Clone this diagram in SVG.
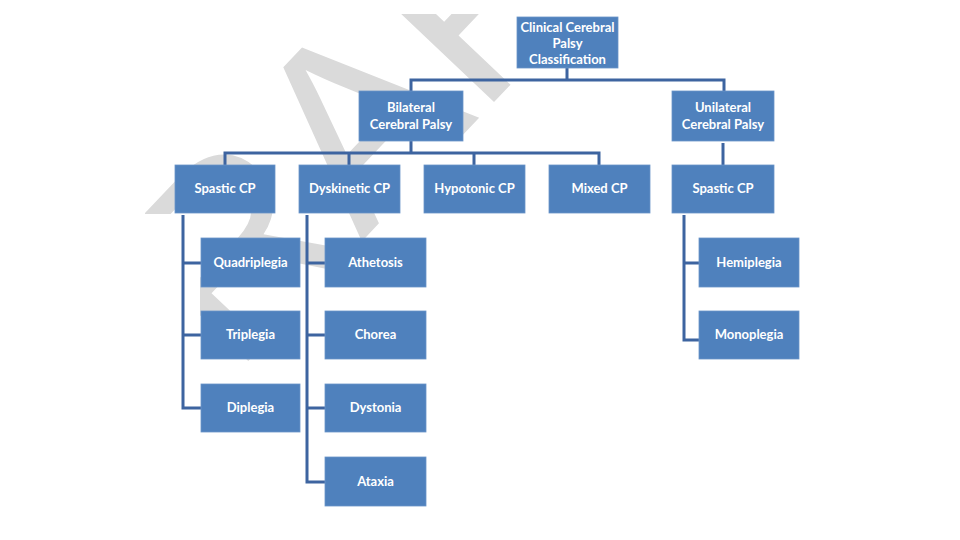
<svg xmlns="http://www.w3.org/2000/svg" width="960" height="540" viewBox="0 0 960 540">
<defs>
<clipPath id="wmclip"><rect x="145" y="14" width="670" height="200"/><rect x="200" y="14" width="615" height="500"/></clipPath>
<style>
.box{fill:#4f81bd;stroke:#6a95c9;stroke-width:0.8}
.lbl{font-family:Lato,"Open Sans","Liberation Sans",sans-serif;font-weight:700;font-size:13px;fill:#ffffff;text-anchor:middle}
.con{fill:none;stroke:#3d64a0;stroke-width:3;stroke-linejoin:miter}
.wm{font-family:"Liberation Sans",Arial,sans-serif;font-size:257px;fill:#dadada}
</style>
</defs>
<rect width="960" height="540" fill="#ffffff"/>
<g id="watermark" clip-path="url(#wmclip)">
<text class="wm" transform="translate(106,511) rotate(-46.5)">DRAFT</text>
</g>
<g id="connectors">
<path class="con" d="M567,68 V80 M411,91 V80 H724 V91"/>
<path class="con" d="M411,141 V153 M225,165 V153 H599 V165 M349,153 V165 M474,153 V165"/>
<path class="con" d="M723,143 V165"/>
<path class="con" d="M183,215 V408 H201 M183,263 H201 M183,335 H201"/>
<path class="con" d="M307,215 V482 H325 M307,263 H325 M307,335 H325 M307,408 H325"/>
<path class="con" d="M684,215 V340 H699 M684,263 H699"/>
</g>
<g id="n-root"><rect class="box" x="517" y="17" width="101" height="51"/>
<text class="lbl" x="567.5" y="32">Clinical Cerebral</text>
<text class="lbl" x="567.5" y="48">Palsy</text>
<text class="lbl" x="567.5" y="64">Classification</text></g>
<g id="n-bilateral"><rect class="box" x="359" y="91" width="104" height="50"/>
<text class="lbl" x="411" y="112">Bilateral</text>
<text class="lbl" x="411" y="129">Cerebral Palsy</text></g>
<g id="n-unilateral"><rect class="box" x="672" y="91" width="102" height="50"/>
<text class="lbl" x="723" y="112">Unilateral</text>
<text class="lbl" x="723" y="129">Cerebral Palsy</text></g>
<g id="n-spastic-b"><rect class="box" x="175" y="165" width="100" height="48"/>
<text class="lbl" x="225" y="193">Spastic CP</text></g>
<g id="n-dyskinetic"><rect class="box" x="299" y="165" width="101" height="48"/>
<text class="lbl" x="349.5" y="193">Dyskinetic CP</text></g>
<g id="n-hypotonic"><rect class="box" x="424" y="165" width="101" height="48"/>
<text class="lbl" x="474.5" y="193">Hypotonic CP</text></g>
<g id="n-mixed"><rect class="box" x="549" y="165" width="101" height="48"/>
<text class="lbl" x="599.5" y="193">Mixed CP</text></g>
<g id="n-spastic-u"><rect class="box" x="672" y="165" width="102" height="48"/>
<text class="lbl" x="723" y="193">Spastic CP</text></g>
<g id="n-quadriplegia"><rect class="box" x="201" y="238" width="99" height="49"/>
<text class="lbl" x="250.5" y="267">Quadriplegia</text></g>
<g id="n-triplegia"><rect class="box" x="201" y="311" width="99" height="48"/>
<text class="lbl" x="250.5" y="339">Triplegia</text></g>
<g id="n-diplegia"><rect class="box" x="201" y="384" width="99" height="48"/>
<text class="lbl" x="250.5" y="412">Diplegia</text></g>
<g id="n-athetosis"><rect class="box" x="325" y="238" width="101" height="49"/>
<text class="lbl" x="375.5" y="267">Athetosis</text></g>
<g id="n-chorea"><rect class="box" x="325" y="311" width="101" height="48"/>
<text class="lbl" x="375.5" y="339">Chorea</text></g>
<g id="n-dystonia"><rect class="box" x="325" y="384" width="101" height="48"/>
<text class="lbl" x="375.5" y="412">Dystonia</text></g>
<g id="n-ataxia"><rect class="box" x="325" y="457" width="101" height="49"/>
<text class="lbl" x="375.5" y="486">Ataxia</text></g>
<g id="n-hemiplegia"><rect class="box" x="699" y="238" width="100" height="49"/>
<text class="lbl" x="749" y="267">Hemiplegia</text></g>
<g id="n-monoplegia"><rect class="box" x="699" y="311" width="100" height="48"/>
<text class="lbl" x="749" y="339">Monoplegia</text></g>
</svg>
